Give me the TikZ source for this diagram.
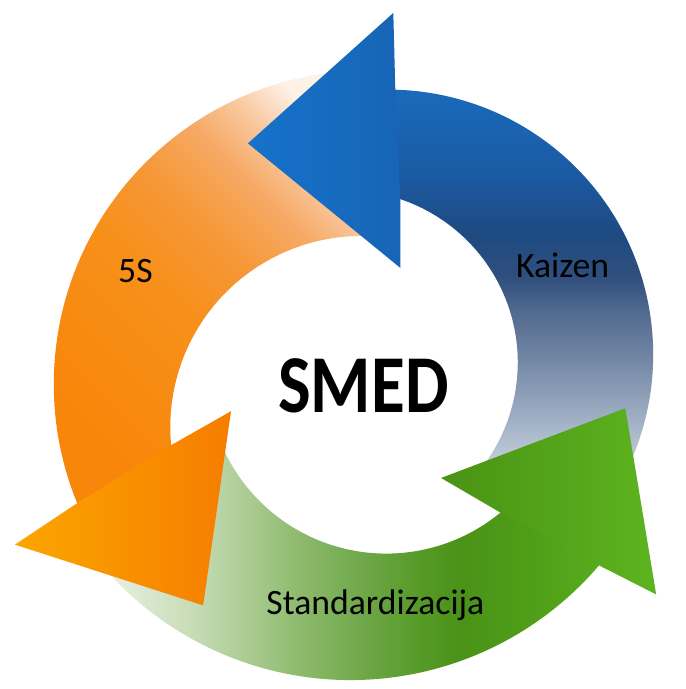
\documentclass[tikz,border=0pt]{standalone}
\usepackage{fontspec}
\setmainfont{Carlito}
\usepackage{xcolor}
\usepackage{tikz}

% orange (5S)
\definecolor{fv1}{HTML}{F8860A}
\definecolor{fv2}{HTML}{F7901A}
\definecolor{fv3}{HTML}{F6983A}
\definecolor{fv4}{HTML}{F6AA66}
\definecolor{fv5}{HTML}{F9C9A0}
\definecolor{fv6}{HTML}{FCE3CF}
\definecolor{fv7}{HTML}{FEF1E6}
\definecolor{fiveHeadL}{HTML}{FBA600}
\definecolor{fiveHeadR}{HTML}{F67D00}
% blue (Kaizen)
\definecolor{kz1}{HTML}{F0F3F7}
\definecolor{kz2}{HTML}{DDE3EC}
\definecolor{kz3}{HTML}{BCC8D6}
\definecolor{kz4}{HTML}{9AAAC0}
\definecolor{kz5}{HTML}{7488A6}
\definecolor{kz6}{HTML}{526A8F}
\definecolor{kz7}{HTML}{30507E}
\definecolor{kz8}{HTML}{1E4A80}
\definecolor{kz9}{HTML}{1B5BA5}
\definecolor{kz10}{HTML}{1A6ABB}
\definecolor{kzHeadL}{HTML}{1672CB}
\definecolor{kzHeadR}{HTML}{1765B5}
% green (Standardizacija)
\definecolor{st1}{HTML}{F2F7EE}
\definecolor{st2}{HTML}{E8F0E2}
\definecolor{st3}{HTML}{C8DDB8}
\definecolor{st4}{HTML}{A9CA90}
\definecolor{st5}{HTML}{8DBA6C}
\definecolor{st6}{HTML}{70A84A}
\definecolor{st7}{HTML}{559A26}
\definecolor{st8}{HTML}{4A9218}
\definecolor{st9}{HTML}{4E9C18}
\definecolor{st10}{HTML}{58AC1C}
\definecolor{stHeadL}{HTML}{4A9214}
\definecolor{stHeadR}{HTML}{5DB41F}

\pgfdeclareverticalshading{fivesshade}{100bp}{color(0bp)=(fv1); color(25bp)=(fv1);
  color(45bp)=(fv2); color(55bp)=(fv3); color(63bp)=(fv4); color(69bp)=(fv5);
  color(73bp)=(fv6); color(75bp)=(fv7); color(100bp)=(fv7)}
\pgfdeclareverticalshading{kaizenshade}{100bp}{color(0bp)=(kz1); color(25bp)=(kz1);
  color(28bp)=(kz2); color(33bp)=(kz3); color(38bp)=(kz4); color(43.8bp)=(kz5);
  color(49.5bp)=(kz6); color(53.3bp)=(kz7); color(58.4bp)=(kz8); color(65.8bp)=(kz9);
  color(75bp)=(kz10); color(100bp)=(kz10)}
\pgfdeclarehorizontalshading{stdshade}{100bp}{color(0bp)=(st1); color(25bp)=(st1);
  color(27.6bp)=(st2); color(35.3bp)=(st3); color(41.1bp)=(st4); color(45.9bp)=(st5);
  color(51.7bp)=(st6); color(57.5bp)=(st7); color(61.3bp)=(st8); color(67.1bp)=(st9);
  color(75bp)=(st10); color(100bp)=(st10)}

\begin{document}
\begin{tikzpicture}[x=0.02cm, y=0.02cm,
  lbl/.style={font=\fontsize{20.4}{24}\selectfont, inner sep=0pt, anchor=base},
  hub/.style={font=\bfseries\fontsize{47}{56}\selectfont, inner sep=0pt, anchor=base}
]
\fill[white] (0,0) rectangle (659,689);

% centres of the arc edges
\coordinate (oOut) at (369,303);
\coordinate (oIn) at (363,260);
\coordinate (bOut) at (390,333);
\coordinate (bIn) at (347,325);
\coordinate (gOut) at (352,334);
\coordinate (gIn) at (388,313);

% bodies
\shade[shading=fivesshade, shading angle=-45]
  ([shift={(88:315)}]oOut) arc[start angle=88, end angle=203.2, radius=315]
  -- ([shift={(186.4:192)}]oIn) arc[start angle=186.4, end angle=88, radius=192] -- cycle;
\shade[shading=kaizenshade]
  ([shift={(-40:266)}]bOut) arc[start angle=-40, end angle=89.5, radius=266]
  -- ([shift={(72.5:173)}]bIn) arc[start angle=72.5, end angle=-40, radius=173] -- cycle;
\shade[shading=stdshade]
  ([shift={(215:328)}]gOut) arc[start angle=215, end angle=320.6, radius=328]
  -- ([shift={(-49.4:180)}]gIn) arc[start angle=-49.4, end angle=-160, radius=180] -- cycle;

% heads
\shade[left color=fiveHeadL, right color=fiveHeadR]
  (78,184) -- (15,142) -- (204,81) -- (232,276) -- (172,242) -- cycle;
\shade[left color=kzHeadL, right color=kzHeadR]
  (397,599) -- (395,676) -- (249,545) -- (402,420) -- (402,489) -- cycle;
\shade[left color=stHeadL, right color=stHeadR]
  (602,121) -- (659,92) -- (628,279) -- (443,209) -- (503,174) -- cycle;

% texts
\node[hub] (smed) at (365,275) {\scalebox{0.84}[1]{SMED}};
\node[lbl] (kaizen) at (565,410) {Kaizen};
\node[lbl] (fives) at (136,405) {5S};
\node[lbl] (std) at (377,72) {Standardizacija};
\end{tikzpicture}
\end{document}
